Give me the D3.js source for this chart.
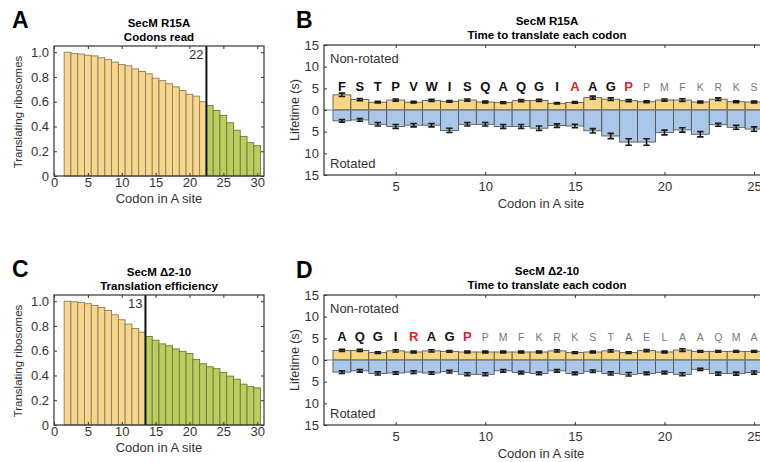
<!DOCTYPE html>
<html>
<head>
<meta charset="utf-8">
<script src="https://cdn.jsdelivr.net/npm/d3@7"></script>
<style>
  body { margin: 0; background: #fff; }
  svg text { font-family: "Liberation Sans", Arial, sans-serif; }
</style>
</head>
<body>
<svg id="fig" width="760" height="462"></svg>
<script>
// Codon positions in the A site (panels A and C).
const codonsRead = [2,3,4,5,6,7,8,9,10,11,12,13,14,15,16,17,18,19,20,21,22,23,24,25,26,27,28,29,30];

// Fraction of translating ribosomes, SecM R15A.
const readR15A = [1.00,0.99,0.985,0.975,0.97,0.955,0.94,0.92,0.90,0.89,0.865,0.845,0.825,0.79,
                  0.77,0.745,0.72,0.69,0.66,0.645,0.60,0.57,0.53,0.49,0.43,0.37,0.32,0.27,0.245];
const cutR15A = 22;

// Fraction of translating ribosomes, SecM delta 2-10.
const readDel = [1.00,0.995,0.99,0.98,0.965,0.95,0.925,0.89,0.85,0.815,0.78,0.75,0.715,0.685,
                 0.655,0.64,0.615,0.595,0.578,0.53,0.495,0.47,0.455,0.425,0.395,0.37,0.33,0.31,0.30];
const cutDel = 13;

// Codons for lifetime panels (B and D).
const codonsLife = [2,3,4,5,6,7,8,9,10,11,12,13,14,15,16,17,18,19,20,21,22,23,24,25];

// SecM R15A lifetimes (s).
const aaR15A = ["F","S","T","P","V","W","I","S","Q","A","Q","G","I","A","A","G","P","P","M","F","K","R","K","S"];
const nonRotR15A = [3.5,2.4,1.8,2.3,1.8,2.2,2.0,2.3,1.85,1.7,2.15,2.2,1.55,1.75,2.85,2.5,2.15,1.9,2.3,2.3,1.85,2.5,1.9,1.85];
const nonRotErrR15A = [0.4,0.25,0.2,0.25,0.2,0.25,0.2,0.25,0.2,0.2,0.25,0.25,0.15,0.2,0.35,0.3,0.25,0.2,0.25,0.3,0.2,0.3,0.2,0.2];
const rotR15A = [2.5,2.3,3.3,3.8,3.5,3.5,4.7,3.3,3.3,3.8,3.8,4.2,3.6,3.7,4.8,6.0,7.4,7.4,5.2,4.6,5.6,3.4,4.0,4.4];
const rotErrR15A = [0.3,0.3,0.4,0.45,0.4,0.4,0.5,0.4,0.4,0.45,0.45,0.5,0.4,0.4,0.5,0.6,0.75,0.75,0.55,0.5,0.6,0.35,0.45,0.5];
const redR15A = [15, 18];
const boldUntilR15A = 18;

// SecM delta 2-10 lifetimes (s).
const aaDel = ["A","Q","G","I","R","A","G","P","P","M","F","K","R","K","S","T","A","E","L","A","A","Q","M","A"];
const nonRotDel = [2.2,2.2,1.7,2.1,1.85,2.1,2.0,1.85,1.85,1.85,1.85,1.85,2.1,1.7,1.85,2.1,1.7,2.15,1.85,2.3,2.0,2.0,2.0,2.0];
const nonRotErrDel = [0.25,0.25,0.2,0.25,0.2,0.25,0.2,0.2,0.2,0.2,0.2,0.2,0.25,0.2,0.2,0.25,0.2,0.25,0.2,0.3,0.2,0.2,0.2,0.2];
const rotDel = [2.8,2.5,3.1,3.0,2.8,3.0,2.7,3.3,3.3,2.5,2.9,3.1,2.5,3.1,2.6,3.1,3.3,3.1,2.9,3.3,2.15,3.15,3.15,2.9];
const rotErrDel = [0.3,0.3,0.35,0.3,0.3,0.3,0.3,0.35,0.35,0.3,0.3,0.3,0.3,0.3,0.3,0.35,0.4,0.3,0.3,0.35,0.25,0.35,0.35,0.35];
const redDel = [6, 9];
const boldUntilDel = 9;

const svg = d3.select("#fig");

function panelLabel(letter, x, y) {
    svg.append("text")
        .attr("x", x).attr("y", y)
        .attr("font-size", 23).attr("font-weight", "bold")
        .text(letter);
}

function titles(lines, cx, y0) {
    lines.forEach(function(t, i) {
        svg.append("text")
            .attr("x", cx).attr("y", y0 + i * 14)
            .attr("text-anchor", "middle")
            .attr("font-size", 11.5).attr("font-weight", "bold")
            .text(t);
    });
}

function styleAxis(g) {
    g.select(".domain").remove();
    g.selectAll(".tick line").attr("stroke", "#333");
    g.selectAll(".tick text").attr("font-size", 13).attr("fill", "#333")
        .style("font-family", "'Liberation Sans', Arial, sans-serif");
}

function drawRead(top, codons, values, cut, titleLines, label) {
    /*
    Bar chart of the fraction of ribosomes still translating at each codon.
    */
    let x = d3.scaleLinear().domain([0, 31]).range([54, 264]);
    let y = d3.scaleLinear().domain([0, 1.05]).range([top + 130, top]);
    let g = svg.append("g");

    g.selectAll("rect.bar")
        .data(codons)
        .enter().append("rect")
        .attr("x", d => x(d - 0.5))
        .attr("width", x(1) - x(0))
        .attr("y", (d, i) => y(values[i]))
        .attr("height", (d, i) => y(0) - y(values[i]))
        .attr("fill", d => d <= cut ? "#f8d58c" : "#bccd5f")
        .attr("stroke", d => d <= cut ? "#8e7d5c" : "#6d7a3c")
        .attr("stroke-width", 0.9);

    // Cutoff line and its label.
    g.append("line")
        .attr("x1", x(cut + 0.5)).attr("x2", x(cut + 0.5))
        .attr("y1", y(1.05)).attr("y2", y(0))
        .attr("stroke", "#111").attr("stroke-width", 2);
    g.append("text")
        .attr("x", x(cut + 0.5) - 3).attr("y", y(1.05) + 13)
        .attr("text-anchor", "end").attr("font-size", 13).attr("fill", "#333")
        .text(cut);

    // Frame.
    g.append("rect")
        .attr("x", x(0)).attr("y", y(1.05))
        .attr("width", x(31) - x(0)).attr("height", y(0) - y(1.05))
        .attr("fill", "none").attr("stroke", "#333").attr("stroke-width", 1.2);

    let yTicks = [0, 0.2, 0.4, 0.6, 0.8, 1.0];
    let xTicks = [0, 5, 10, 15, 20, 25, 30];

    g.append("g").attr("transform", "translate(" + x(0) + ",0)")
        .call(d3.axisLeft(y).tickValues(yTicks).tickSize(-3).tickPadding(5)
            .tickFormat(d => d === 0 ? "0" : d3.format(".1f")(d)))
        .call(styleAxis);
    g.append("g").attr("transform", "translate(" + x(31) + ",0)")
        .call(d3.axisRight(y).tickValues(yTicks).tickSize(-3).tickFormat(""))
        .call(styleAxis);
    g.append("g").attr("transform", "translate(0," + y(0) + ")")
        .call(d3.axisBottom(x).tickValues(xTicks).tickSize(-3).tickPadding(2))
        .call(styleAxis);
    g.append("g").attr("transform", "translate(0," + y(1.05) + ")")
        .call(d3.axisTop(x).tickValues(xTicks).tickSize(-3).tickFormat(""))
        .call(styleAxis);

    g.append("text")
        .attr("x", 159).attr("y", top + 157)
        .attr("text-anchor", "middle").attr("font-size", 13).attr("fill", "#333")
        .text("Codon in A site");
    g.append("text")
        .attr("transform", "translate(22," + (top + 66) + ") rotate(-90)")
        .attr("text-anchor", "middle").attr("font-size", 11.5).attr("fill", "#333")
        .text("Translating ribosomes");

    titles(titleLines, 159, top - 19);
    panelLabel(label, 12, top - 18);
}

function drawLife(top, codons, aa, nonRot, nonRotErr, rot, rotErr, red, boldUntil, titleLines, label) {
    /*
    Mirrored bar chart: non-rotated lifetime above zero, rotated below.
    */
    let x = d3.scaleLinear().domain([1, 26]).range([324, 772]);
    let y = d3.scaleLinear().domain([-15, 15]).range([top + 130, top]);
    let g = svg.append("g");
    let w = x(1) - x(0);
    let cap = w * 0.18;

    g.selectAll("rect.up")
        .data(codons)
        .enter().append("rect")
        .attr("x", d => x(d - 0.5)).attr("width", w)
        .attr("y", (d, i) => y(nonRot[i]))
        .attr("height", (d, i) => y(0) - y(nonRot[i]))
        .attr("fill", "#f6d67e").attr("stroke", "#4a4a4a").attr("stroke-width", 0.8);

    g.selectAll("rect.down")
        .data(codons)
        .enter().append("rect")
        .attr("x", d => x(d - 0.5)).attr("width", w)
        .attr("y", y(0))
        .attr("height", (d, i) => y(-rot[i]) - y(0))
        .attr("fill", "#aac6e8").attr("stroke", "#4a4a4a").attr("stroke-width", 0.8);

    g.append("line")
        .attr("x1", x(1)).attr("x2", x(26))
        .attr("y1", y(0)).attr("y2", y(0))
        .attr("stroke", "#7f8a99").attr("stroke-width", 1.2);

    // Error bars.
    function errorBars(means, errs) {
        g.selectAll(null)
            .data(codons)
            .enter().append("path")
            .attr("d", function(d, i) {
                let cx = x(d), y1 = y(means[i] + errs[i]), y2 = y(means[i] - errs[i]);
                return "M" + (cx - cap) + "," + y1 + "H" + (cx + cap) +
                       "M" + cx + "," + y1 + "V" + y2 +
                       "M" + (cx - cap) + "," + y2 + "H" + (cx + cap);
            })
            .attr("fill", "none").attr("stroke", "#1a1a1a").attr("stroke-width", 1.6);
    }
    errorBars(nonRot, nonRotErr);
    errorBars(rot.map(v => -v), rotErr);

    // Amino acid letters above the bars.
    g.selectAll("text.aa")
        .data(codons)
        .enter().append("text")
        .attr("x", d => x(d))
        .attr("y", y(5.5) + 5)
        .attr("text-anchor", "middle")
        .attr("font-size", d => d <= boldUntil ? 13 : 10.5)
        .attr("font-weight", d => d <= boldUntil ? "bold" : "normal")
        .attr("fill", d => red.includes(d) ? "#e0202a" : (d <= boldUntil ? "#111" : "#777"))
        .text((d, i) => aa[i]);

    // Frame.
    g.append("rect")
        .attr("x", x(1)).attr("y", y(15))
        .attr("width", x(26) - x(1)).attr("height", y(-15) - y(15))
        .attr("fill", "none").attr("stroke", "#333").attr("stroke-width", 1.2);

    let yTicks = [-15, -10, -5, 0, 5, 10, 15];
    let xTicks = [5, 10, 15, 20, 25];

    g.append("g").attr("transform", "translate(" + x(1) + ",0)")
        .call(d3.axisLeft(y).tickValues(yTicks).tickSize(-3).tickPadding(5)
            .tickFormat(d => Math.abs(d)))
        .call(styleAxis);
    g.append("g").attr("transform", "translate(0," + y(-15) + ")")
        .call(d3.axisBottom(x).tickValues(xTicks).tickSize(-3).tickPadding(7))
        .call(styleAxis);
    g.append("g").attr("transform", "translate(0," + y(15) + ")")
        .call(d3.axisTop(x).tickValues(xTicks).tickSize(-3).tickFormat(""))
        .call(styleAxis);

    g.append("text")
        .attr("x", x(1) + 6).attr("y", y(15) + 18)
        .attr("font-size", 13).attr("fill", "#333")
        .text("Non-rotated");
    g.append("text")
        .attr("x", x(1) + 6).attr("y", y(-15) - 7)
        .attr("font-size", 13).attr("fill", "#333")
        .text("Rotated");

    g.append("text")
        .attr("x", 541).attr("y", top + 163)
        .attr("text-anchor", "middle").attr("font-size", 13).attr("fill", "#333")
        .text("Codon in A site");
    g.append("text")
        .attr("transform", "translate(299," + (top + 65) + ") rotate(-90)")
        .attr("text-anchor", "middle").attr("font-size", 12.5).attr("fill", "#333")
        .text("Lifetime (s)");

    titles(titleLines, 547, top - 20);
    panelLabel(label, 296, top - 17);
}

drawRead(46, codonsRead, readR15A, cutR15A, ["SecM R15A", "Codons read"], "A");
drawRead(295, codonsRead, readDel, cutDel, ["SecM \u03942-10", "Translation efficiency"], "C");
drawLife(45, codonsLife, aaR15A, nonRotR15A, nonRotErrR15A, rotR15A, rotErrR15A, redR15A, boldUntilR15A,
         ["SecM R15A", "Time to translate each codon"], "B");
drawLife(295, codonsLife, aaDel, nonRotDel, nonRotErrDel, rotDel, rotErrDel, redDel, boldUntilDel,
         ["SecM \u03942-10", "Time to translate each codon"], "D");
</script>
</body>
</html>
